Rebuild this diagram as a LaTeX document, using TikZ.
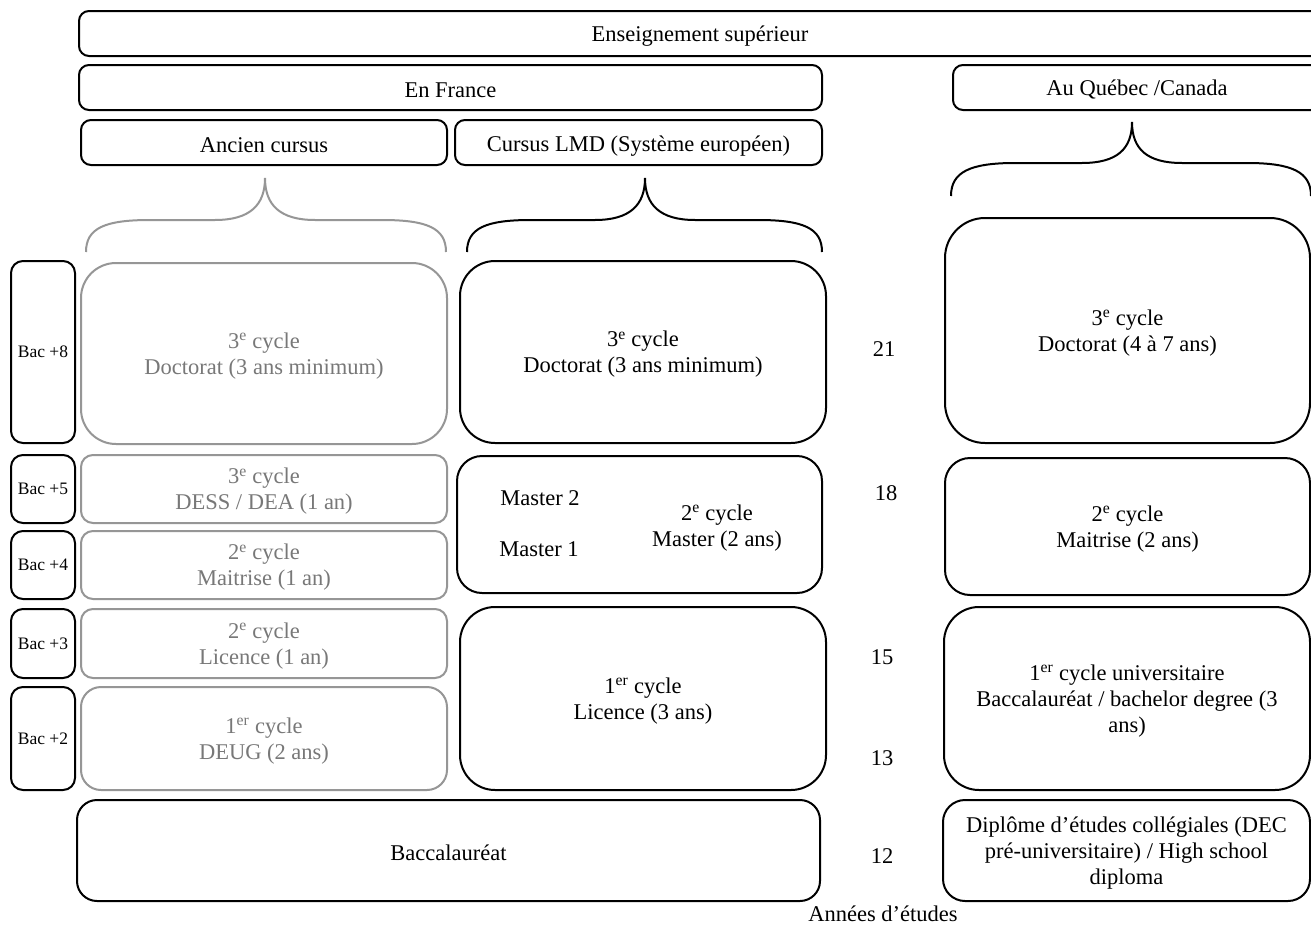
\documentclass[tikz,border=0pt]{standalone}
\usepackage{fontspec}
\setmainfont{Liberation Serif}
\definecolor{oldtext}{RGB}{120,120,120}
\definecolor{oldline}{RGB}{150,150,150}
\tikzset{
  box/.style={draw=black, line width=2pt, inner sep=0pt},
  oldbox/.style={box, draw=oldline},
  bacbox/.style={box, align=center, font=\fontsize{17.5}{20}\selectfont},
  lbl/.style={inner sep=0pt, align=center, font=\fontsize{22.5}{26}\selectfont},
  tx/.style={lbl, yshift=-2.5pt},
  oldtx/.style={tx, text=oldtext},
  brace/.style={line width=2pt},
}
\newcommand{\sx}[1]{\textsuperscript{#1}}
\begin{document}
\begin{tikzpicture}[x=1pt,y=-1pt]
\useasboundingbox[fill=white] (0,0) rectangle (1311,926);
% headers
\node[box, rounded corners=10pt, minimum width=1242pt, minimum height=45pt] (top) at (700,33.5) {};
\node[tx] (top-t) at (top.center) {Enseignement supérieur};
\node[box, rounded corners=10pt, minimum width=743pt, minimum height=45pt] (france) at (450.5,87.5) {};
\node[tx] (france-t) at (france.center) {En France};
\node[box, rounded corners=10pt, minimum width=368pt, minimum height=45pt] (quebec) at (1137,87.5) {};
\node[tx] (quebec-t) at (quebec.center) {Au Québec /Canada};
\node[box, rounded corners=10pt, minimum width=366pt, minimum height=45pt] (ancien) at (264,142.5) {};
\node[tx] (ancien-t) at (ancien.center) {Ancien cursus};
\node[box, rounded corners=10pt, minimum width=367pt, minimum height=45pt] (lmd) at (638.5,142.5) {};
\node[tx, yshift=-1.5pt] (lmd-t) at (lmd.center) {Cursus LMD (Système européen)};
% braces
\draw[brace, draw=oldline] (86,252) .. controls (86,228) and (105,220) .. (150,220) -- (215,220)
  .. controls (250,220) and (265,205) .. (265,178)
  .. controls (265,205) and (280,220) .. (315,220) -- (382,220)
  .. controls (427,220) and (446,228) .. (446,252);
\draw[brace] (467,252) .. controls (467,228) and (486,220) .. (531,220) -- (595,220)
  .. controls (630,220) and (645,205) .. (645,178)
  .. controls (645,205) and (660,220) .. (695,220) -- (758,220)
  .. controls (803,220) and (822,228) .. (822,252);
\draw[brace] (951,196) .. controls (951,172) and (970,163) .. (1015,163) -- (1082,163)
  .. controls (1117,163) and (1132,149) .. (1132,122)
  .. controls (1132,149) and (1147,163) .. (1182,163) -- (1247,163)
  .. controls (1292,163) and (1311,172) .. (1311,196);
% Bac labels
\node[bacbox, rounded corners=12pt, minimum width=64pt, minimum height=182pt] (bac8) at (43,352) {Bac +8};
\node[bacbox, rounded corners=12pt, minimum width=64pt, minimum height=68pt] (bac5) at (43,489) {Bac +5};
\node[bacbox, rounded corners=12pt, minimum width=64pt, minimum height=68pt] (bac4) at (43,565) {Bac +4};
\node[bacbox, rounded corners=12pt, minimum width=64pt, minimum height=69pt] (bac3) at (43,643.5) {Bac +3};
\node[bacbox, rounded corners=12pt, minimum width=64pt, minimum height=103pt] (bac2) at (43,738.5) {Bac +2};
% Ancien cursus
\node[oldbox, rounded corners=35pt, minimum width=366pt, minimum height=181pt] (adoc) at (264,353.5) {};
\node[oldtx] (adoc-t) at (adoc.center) {3\sx{e} cycle\\Doctorat (3 ans minimum)};
\node[oldbox, rounded corners=12pt, minimum width=366pt, minimum height=68pt] (adess) at (264,489) {};
\node[oldtx] (adess-t) at (adess.center) {3\sx{e} cycle\\DESS / DEA (1 an)};
\node[oldbox, rounded corners=12pt, minimum width=366pt, minimum height=68pt] (amait) at (264,565) {};
\node[oldtx] (amait-t) at (amait.center) {2\sx{e} cycle\\Maitrise (1 an)};
\node[oldbox, rounded corners=12pt, minimum width=366pt, minimum height=69pt] (alic) at (264,643.5) {};
\node[oldtx] (alic-t) at (alic.center) {2\sx{e} cycle\\Licence (1 an)};
\node[oldbox, rounded corners=20pt, minimum width=366pt, minimum height=103pt] (adeug) at (264,738.5) {};
\node[oldtx] (adeug-t) at (adeug.center) {1\sx{er} cycle\\DEUG (2 ans)};
% LMD
\node[box, rounded corners=35pt, minimum width=366pt, minimum height=182pt] (ldoc) at (643,352) {};
\node[tx] (ldoc-t) at (ldoc.center) {3\sx{e} cycle\\Doctorat (3 ans minimum)};
\node[box, rounded corners=25pt, minimum width=365pt, minimum height=137pt] (lmas) at (639.5,524.5) {};
\node[lbl] (m2) at (540,498) {Master 2};
\node[lbl] (m1) at (539,549) {Master 1};
\node[lbl] (mcyc) at (717,528) {2\sx{e} cycle\\Master (2 ans)};
\node[box, rounded corners=35pt, minimum width=366pt, minimum height=183pt] (llic) at (643,698.5) {};
\node[tx] (llic-t) at (llic.center) {1\sx{er} cycle\\Licence (3 ans)};
\node[box, rounded corners=20pt, minimum width=743pt, minimum height=101pt] (bacc) at (448.5,850.5) {};
\node[tx] (bacc-t) at (bacc.center) {Baccalauréat};
% Quebec
\node[box, rounded corners=40pt, minimum width=365pt, minimum height=225pt] (qdoc) at (1127.5,330.5) {};
\node[tx] (qdoc-t) at (qdoc.center) {3\sx{e} cycle\\Doctorat (4 à 7 ans)};
\node[box, rounded corners=25pt, minimum width=365pt, minimum height=137pt] (qmait) at (1127.5,526.5) {};
\node[tx] (qmait-t) at (qmait.center) {2\sx{e} cycle\\Maitrise (2 ans)};
\node[box, rounded corners=35pt, minimum width=366pt, minimum height=183pt] (qlic) at (1127,698.5) {};
\node[tx] (qlic-t) at (qlic.center) {1\sx{er} cycle universitaire\\Baccalauréat / bachelor degree (3\\ans)};
\node[box, rounded corners=22pt, minimum width=367pt, minimum height=101pt] (qdec) at (1126.5,850.5) {};
\node[tx] (qdec-t) at (qdec.center) {Diplôme d’études collégiales (DEC\\pré-universitaire) / High school\\diploma};
% years
\node[lbl] (y21) at (884,349) {21};
\node[lbl] (y18) at (886,493) {18};
\node[lbl] (y15) at (882,657) {15};
\node[lbl] (y13) at (882,758) {13};
\node[lbl] (y12) at (882,856) {12};
\node[lbl] (annees) at (883,914) {Années d’études};
\end{tikzpicture}
\end{document}
